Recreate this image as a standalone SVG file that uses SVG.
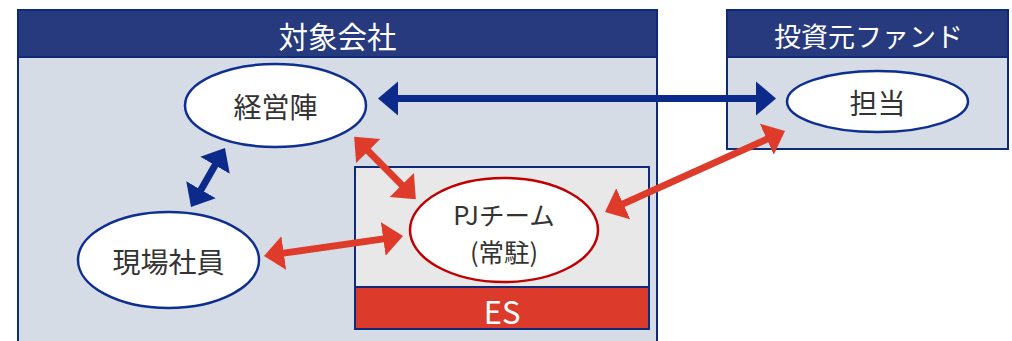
<svg xmlns="http://www.w3.org/2000/svg" width="1012" height="341" viewBox="0 0 1012 341">
<style>
.hdr{fill:#263A7D;stroke:#0E2A78;stroke-width:2}
.body{fill:#D5DCE6;stroke:#0E2A78;stroke-width:2}
.ht{fill:#FFFFFF;font-family:"Noto Sans CJK JP",sans-serif;font-size:29.5px;text-anchor:middle;dominant-baseline:central}
.t{fill:#333333;font-family:"Noto Sans CJK JP",sans-serif;font-size:28px;text-anchor:middle;dominant-baseline:central}
.tp{fill:#333333;font-family:"Noto Sans CJK JP",sans-serif;font-size:25.5px;text-anchor:middle;dominant-baseline:central}
.ell{fill:#FFFFFF;stroke:#0E2F8F;stroke-width:2.5}
.ellr{fill:#FFFFFF;stroke:#C00000;stroke-width:2.5}
.ab{stroke:#0B2A8A;stroke-width:7;fill:none}
.ar{stroke:#DE3B2B;stroke-width:7;fill:none}
</style>
<defs>
<marker id="hb" markerUnits="userSpaceOnUse" markerWidth="22" markerHeight="36" viewBox="0 0 22 36" refX="2" refY="18" orient="auto-start-reverse"><path d="M0,1 L20,18 L0,35 Z" fill="#0B2A8A"/></marker>
<marker id="hr" markerUnits="userSpaceOnUse" markerWidth="22" markerHeight="36" viewBox="0 0 22 36" refX="2" refY="18" orient="auto-start-reverse"><path d="M0,1 L20,18 L0,35 Z" fill="#DE3B2B"/></marker>
</defs>
<g id="target-company">
<rect class="body" x="18" y="57" width="639" height="300"/>
<rect class="hdr" x="18" y="10" width="639" height="47"/>
<text class="ht" x="337.5" y="35">対象会社</text>
</g>
<g id="fund">
<rect class="body" x="727" y="57" width="281" height="92"/>
<rect class="hdr" x="727" y="10" width="281" height="47"/>
<text class="ht" x="868.5" y="35" style="font-size:27px">投資元ファンド</text>
</g>
<g id="es-box">
<rect x="355" y="167" width="294" height="120" fill="#E8E8E8" stroke="#0E2A78" stroke-width="2"/>
<rect x="355" y="287" width="294" height="42" fill="#DC3A2B" stroke="#0E2A78" stroke-width="2"/>
<text class="ht" x="502" y="310" style="font-size:31px">ES</text>
</g>
<g id="management">
<ellipse class="ell" cx="275.5" cy="105.5" rx="90.5" ry="41.5"/>
<text class="t" x="275.5" y="106">経営陣</text>
</g>
<g id="staff">
<ellipse class="ell" cx="168.5" cy="260" rx="90.5" ry="48"/>
<text class="t" x="168.5" y="261">現場社員</text>
</g>
<g id="pj-team">
<ellipse class="ellr" cx="504" cy="230" rx="94" ry="52"/>
<text class="tp" x="504" y="213">PJチーム</text>
<text class="tp" x="504" y="250">(常駐)</text>
</g>
<g id="fund-rep">
<ellipse class="ell" cx="877.5" cy="101.5" rx="90.5" ry="30.5"/>
<text class="t" x="877.5" y="102">担当</text>
</g>
<g id="connectors">
<line class="ab" x1="396" y1="98.5" x2="758" y2="98.5" marker-start="url(#hb)" marker-end="url(#hb)"/>
<line class="ab" x1="200" y1="191.4" x2="216" y2="163.6" marker-start="url(#hb)" marker-end="url(#hb)"/>
<line class="ar" x1="366.8" y1="149.6" x2="403.2" y2="186.4" marker-start="url(#hr)" marker-end="url(#hr)"/>
<line class="ar" x1="281.8" y1="253.4" x2="385.2" y2="238.6" marker-start="url(#hr)" marker-end="url(#hr)"/>
<line class="ar" x1="621.4" y1="204.6" x2="768.6" y2="138.4" marker-start="url(#hr)" marker-end="url(#hr)"/>
</g>
</svg>
